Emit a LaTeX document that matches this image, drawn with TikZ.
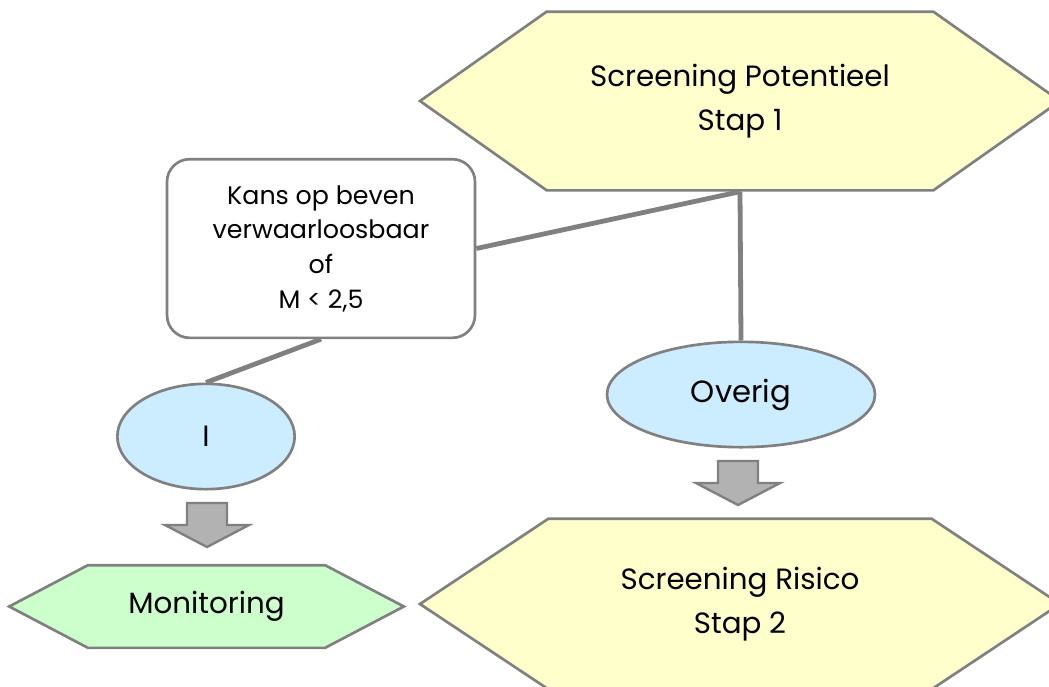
\documentclass[tikz,border=0pt]{standalone}
\usepackage{fontspec}
\setmainfont{Poppins}
\usetikzlibrary{shapes.symbols,shapes.geometric}
\definecolor{stapgeel}{HTML}{FFFFCC}
\definecolor{keuzeblauw}{HTML}{CCECFF}
\definecolor{eindgroen}{HTML}{CCFFCC}
\definecolor{lijngrijs}{HTML}{808080}
\definecolor{pijlgrijs}{HTML}{B2B2B2}
\begin{document}
\begin{tikzpicture}[x=0.75pt,y=-0.75pt]
    \tikzset{
        every node/.style={font=\fontsize{19}{26}\selectfont, align=center, text=black},
        zeshoek/.style={signal, signal to=west and east, draw=lijngrijs, line width=2pt, fill=stapgeel},
        keuze/.style={ellipse, draw=lijngrijs, line width=2pt, fill=keuzeblauw, inner sep=0pt},
        tak/.style={draw=lijngrijs, line width=3.6pt},
        blokpijl/.style={draw=lijngrijs, line width=1.8pt, fill=pijlgrijs, line join=miter}
    }
    \useasboundingbox (0,0) rectangle (1049,686);
    \clip (0,0) rectangle (1049,686);
    % stap 1 (top)
    \node[zeshoek, signal pointer angle=70.4, minimum width=480pt, minimum height=134pt,
          font=\fontsize{22}{33}\selectfont] (stap1) at (740,101) {Screening Potentieel\\Stap 1};
    % condition box
    \node[draw=lijngrijs, line width=2pt, fill=white, rounded corners=17pt,
          minimum width=231pt, minimum height=134pt] (kans) at (321,248.5)
          {Kans op beven\\verwaarloosbaar\\of\\M < 2,5};
    % choices
    \node[keuze, minimum width=133pt, minimum height=79pt, font=\fontsize{22}{33}\selectfont] (een) at (206,436.5) {I};
    \node[keuze, minimum width=201pt, minimum height=79pt, font=\fontsize{23}{33}\selectfont] (overig) at (741,394.5) {Overig};
    % results
    \node[zeshoek, signal pointer angle=55.4, minimum width=296pt, minimum height=62pt,
          fill=eindgroen, font=\fontsize{22}{30}\selectfont] (monit) at (206.5,606.5) {Monitoring};
    \node[zeshoek, signal pointer angle=67.2, minimum width=480pt, minimum height=128pt,
          font=\fontsize{22}{33}\selectfont] (stap2) at (740,604) {Screening Risico\\Stap 2};
    % branches
    \draw[tak] (kans.east) -- (stap1.south);
    \draw[tak] (stap1.south) -- (overig.north);
    \draw[tak] (kans.south) -- (een.north);
    % block arrows
    \coordinate (p1) at (207,503);
    \coordinate (p2) at (738,461);
    \draw[blokpijl] (p1) ++(-20,0) -- ++(40,0) -- ++(0,22) -- ++(22,0) -- ++(-42,22) -- ++(-42,-22) -- ++(22,0) -- cycle;
    \draw[blokpijl] (p2) ++(-20,0) -- ++(40,0) -- ++(0,22) -- ++(22,0) -- ++(-42,22) -- ++(-42,-22) -- ++(22,0) -- cycle;
\end{tikzpicture}
\end{document}
